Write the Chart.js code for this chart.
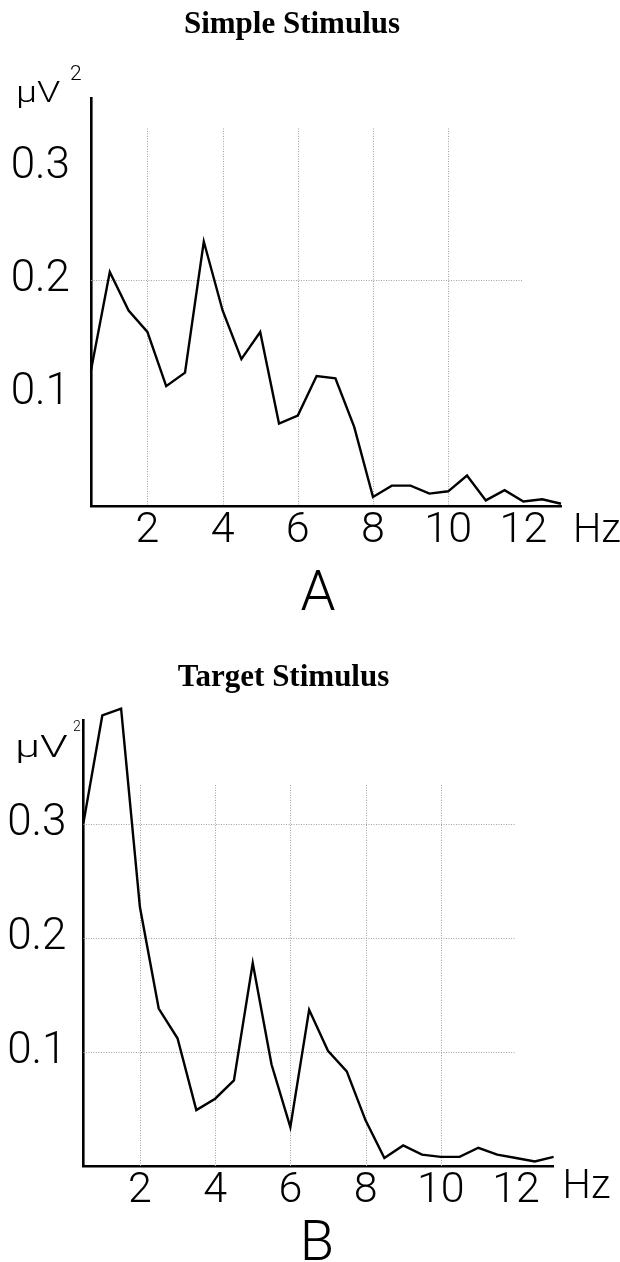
<!DOCTYPE html>
<html>
<head>
<meta charset="utf-8">
<script src="https://cdn.jsdelivr.net/npm/chart.js@4.4.1/dist/chart.umd.min.js"></script>
<style>
  html, body { margin: 0; padding: 0; background: #fff; }
  canvas { display: block; }
</style>
</head>
<body>
<canvas id="simple" width="620" height="640"></canvas>
<canvas id="target" width="620" height="622"></canvas>
<script>
// Frequency bins (Hz)
const freqHz = [0.5, 1, 1.5, 2, 2.5, 3, 3.5, 4, 4.5, 5, 5.5, 6, 6.5, 7, 7.5, 8, 8.5, 9, 9.5, 10, 10.5, 11, 11.5, 12, 12.5, 13];

// Spectral power (µV²) per bin
const simplePower = [0.120, 0.207, 0.173, 0.154, 0.106, 0.118, 0.234, 0.173, 0.130, 0.154, 0.073, 0.080, 0.115,
                     0.113, 0.070, 0.008, 0.018, 0.018, 0.011, 0.013, 0.027, 0.005, 0.014, 0.004, 0.006, 0.002];
const targetPower = [0.301, 0.395, 0.401, 0.227, 0.138, 0.112, 0.049, 0.059, 0.075, 0.178, 0.089, 0.034, 0.137,
                     0.101, 0.083, 0.040, 0.007, 0.018, 0.010, 0.008, 0.008, 0.016, 0.010, 0.007, 0.004, 0.008];

// Axis ticks and reference lines
const freqTicks = [2, 4, 6, 8, 10, 12];
const powerTicks = [0.1, 0.2, 0.3];
const freqGridLines = [2, 4, 6, 8, 10];
const simpleGridPower = [0.2];
const targetGridPower = [0.1, 0.2, 0.3];

// Labels
const panelTitles = ['Simple Stimulus', 'Target Stimulus'];
const panelLetters = ['A', 'B'];
const powerUnit = 'μV';
const powerUnitExp = '2';
const freqUnit = 'Hz';

const LABEL_FONT = 'Roboto, "DejaVu Sans", sans-serif';

// Dotted reference grid drawn only over part of the plot
const dottedGrid = {
  id: 'dottedGrid',
  beforeDatasetsDraw(chart, args, o) {
    const { ctx, scales: { x, y } } = chart;
    ctx.save();
    ctx.strokeStyle = o.color;
    ctx.lineWidth = 1;
    ctx.setLineDash([1, 1.5]);
    const xStart = x.getPixelForValue(x.min);
    const xEnd = x.getPixelForValue(o.xEnd);
    const yBase = y.getPixelForValue(0);
    const yTop = y.getPixelForValue(o.yTop);
    o.ys.forEach(v => {
      const py = Math.round(y.getPixelForValue(v)) + 0.5;
      ctx.beginPath(); ctx.moveTo(xStart, py); ctx.lineTo(xEnd, py); ctx.stroke();
    });
    o.xs.forEach(v => {
      const px = Math.round(x.getPixelForValue(v)) + 0.5;
      ctx.beginPath(); ctx.moveTo(px, yTop); ctx.lineTo(px, yBase); ctx.stroke();
    });
    ctx.restore();
  }
};

// Panel title, unit labels and panel letter
const panelText = {
  id: 'panelText',
  afterDraw(chart, args, o) {
    const { ctx } = chart;
    ctx.save();
    ctx.fillStyle = '#000';
    ctx.textBaseline = 'alphabetic';

    ctx.font = 'bold 31px "Liberation Serif", "Times New Roman", serif';
    ctx.textAlign = 'center';
    ctx.fillText(o.title, o.titleX, o.titleY);

    // power unit, set in a widened face
    ctx.textAlign = 'left';
    ctx.save();
    ctx.translate(o.unitX, o.unitY);
    ctx.scale(o.unitStretch, 1);
    ctx.font = '300 ' + o.unitSize + 'px ' + LABEL_FONT;
    ctx.fillText(powerUnit, 0, 0);
    ctx.restore();
    ctx.font = '300 ' + o.expSize + 'px ' + LABEL_FONT;
    ctx.fillText(powerUnitExp, o.expX, o.expY);

    ctx.font = '300 40px ' + LABEL_FONT;
    ctx.fillText(freqUnit, chart.chartArea.right + o.hzGap, o.hzY);

    ctx.font = '300 56px ' + LABEL_FONT;
    ctx.textAlign = 'center';
    ctx.fillText(o.letter, o.letterX, o.letterY);
    ctx.restore();
  }
};

function makePanel(id, power, p) {
  const points = freqHz.map((f, i) => ({ x: f, y: power[i] }));
  return new Chart(document.getElementById(id), {
    type: 'line',
    data: {
      datasets: [{
        data: points,
        borderColor: '#000',
        borderWidth: 2.4,
        pointRadius: 0,
        tension: 0,
        fill: false,
        clip: false
      }]
    },
    options: {
      responsive: false,
      animation: false,
      events: [],
      layout: { padding: { left: 0, top: p.top, right: p.right, bottom: p.bottom } },
      plugins: {
        legend: { display: false },
        tooltip: { enabled: false },
        dottedGrid: { color: '#a0a0a0', xs: freqGridLines, ys: p.gridPower, xEnd: 12, yTop: 0.334 },
        panelText: p.text
      },
      scales: {
        x: {
          type: 'linear',
          min: 0.5,
          max: 13,
          grid: { display: false },
          border: { display: true, color: '#000', width: 2.6 },
          afterBuildTicks(scale) { scale.ticks = freqTicks.map(v => ({ value: v })); },
          afterFit(scale) { scale.height = 60; },
          ticks: {
            autoSkip: false,
            maxRotation: 0,
            padding: -4,
            color: '#000',
            font: { family: LABEL_FONT, size: 43, weight: '300', lineHeight: 1 },
            callback: v => String(v)
          }
        },
        y: {
          type: 'linear',
          min: 0,
          max: p.yMax,
          grid: { display: false },
          border: { display: true, color: '#000', width: 2.6 },
          afterBuildTicks(scale) { scale.ticks = powerTicks.map(v => ({ value: v })); },
          afterFit(scale) { scale.width = p.left; },
          ticks: {
            padding: p.tickPad,
            color: '#000',
            font: { family: LABEL_FONT, size: 44, weight: '300', lineHeight: 1 },
            callback: v => v.toFixed(1)
          }
        }
      }
    },
    plugins: [dottedGrid, panelText]
  });
}

makePanel('simple', simplePower, {
  left: 91, top: 98, right: 59, bottom: 74, yMax: 0.361, tickPad: 13,
  gridPower: simpleGridPower,
  text: { title: panelTitles[0], titleX: 292, titleY: 33,
          unitSize: 29, unitStretch: 1.3, unitX: 16, unitY: 102,
          expSize: 21, expX: 70, expY: 80,
          hzGap: 12, hzY: 542, letter: panelLetters[0], letterX: 318, letterY: 610 }
});

makePanel('target', targetPower, {
  left: 83.5, top: 80, right: 66.4, bottom: 36, yMax: 0.391, tickPad: 9,
  gridPower: targetGridPower,
  text: { title: panelTitles[1], titleX: 283.5, titleY: 46,
          unitSize: 31, unitStretch: 1.45, unitX: 15, unitY: 117,
          expSize: 14, expX: 73, expY: 91,
          hzGap: 9, hzY: 558, letter: panelLetters[1], letterX: 317, letterY: 620 }
});
</script>
</body>
</html>
